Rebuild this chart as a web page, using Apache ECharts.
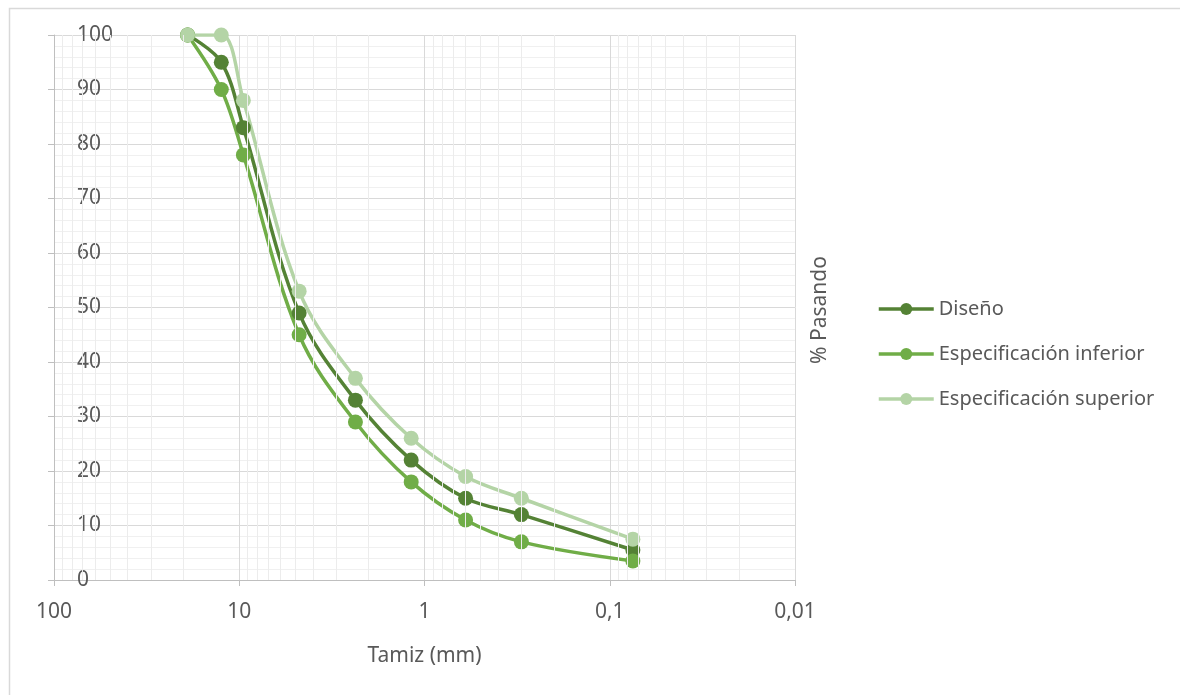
<!DOCTYPE html>
<html>
<head>
<meta charset="utf-8">
<script src="https://cdn.jsdelivr.net/npm/echarts@6/dist/echarts.min.js"></script>
<style>
  html, body { margin: 0; padding: 0; background: #fff; }
  #main { width: 1180px; height: 695px; }
</style>
</head>
<body>
<div id="main"></div>
<script>
// tamices (mm) y % que pasa
const tamices = [19, 12.5, 9.5, 4.75, 2.36, 1.18, 0.6, 0.3, 0.075];
const diseno = [100, 95, 83, 49, 33, 22, 15, 12, 5.5];
const especInferior = [100, 90, 78, 45, 29, 18, 11, 7, 3.5];
const especSuperior = [100, 100, 88, 53, 37, 26, 19, 15, 7.5];
const nombres = ['Diseño', 'Especificación inferior', 'Especificación superior'];
const colores = ['#548235', '#70ad47', '#b4d4a6'];

// lineas menores de la escala log (2..9 de cada decada)
const decadas = [0.01, 0.1, 1, 10];
const menores = [];
decadas.forEach(function (d) {
  for (let k = 2; k <= 9; k++) menores.push(+(d * k).toPrecision(4));
});

const chart = echarts.init(document.getElementById('main'));
const txt = '#595959';
const fuente = 'Noto Sans';
const tam = 21;

function pares(vals) {
  return tamices.map(function (t, i) { return [t, vals[i]]; });
}

function serie(nombre, vals, color) {
  return {
    name: nombre,
    type: 'line',
    smooth: 0.35,
    symbol: 'circle',
    symbolSize: 15,
    clip: true,
    itemStyle: { color: color },
    lineStyle: { color: color, width: 3.5 },
    data: pares(vals),
    z: 3
  };
}

const option = {
  animation: false,
  textStyle: { fontFamily: fuente },
  grid: { left: 54, right: 385, top: 35, bottom: 115 },
  legend: {
    orient: 'vertical',
    left: 877,
    top: 299,
    padding: 0,
    itemWidth: 55,
    itemHeight: 15,
    itemGap: 25,
    lineStyle: { width: 3.5 },
    textStyle: { color: txt, fontSize: 20, fontFamily: fuente },
    data: nombres
  },
  graphic: [
    {
      type: 'rect',
      left: 7, top: 6,
      shape: { width: 1200, height: 720 },
      style: { fill: 'none', stroke: '#d9d9d9', lineWidth: 1.5 },
      silent: true
    },
    {
      type: 'text',
      x: 820, y: 310,
      rotation: Math.PI / 2,
      style: {
        text: '% Pasando',
        fill: txt,
        font: tam + 'px "Noto Sans"',
        align: 'center',
        verticalAlign: 'middle'
      }
    }
  ],
  xAxis: {
    type: 'log',
    logBase: 10,
    min: 0.01,
    max: 100,
    inverse: true,
    name: 'Tamiz (mm)',
    nameLocation: 'middle',
    nameGap: 66,
    nameTextStyle: { color: txt, fontSize: tam, fontFamily: fuente },
    axisLine: { lineStyle: { color: '#bfbfbf' } },
    axisTick: { show: true, length: 6, lineStyle: { color: '#bfbfbf' } },
    axisLabel: {
      color: txt,
      fontSize: tam,
      margin: 22,
      formatter: function (v) { return String(+v.toPrecision(6)).replace('.', ','); }
    },
    splitLine: { show: true, lineStyle: { color: '#d9d9d9' } }
  },
  yAxis: {
    type: 'value',
    min: 0,
    max: 100,
    interval: 10,
    axisLine: { show: true, lineStyle: { color: '#bfbfbf' } },
    axisTick: { show: true, length: 6, lineStyle: { color: '#bfbfbf' } },
    axisLabel: { inside: true, margin: 23, align: 'left', color: txt, fontSize: tam },
    splitLine: { show: true, lineStyle: { color: '#d9d9d9' } },
    minorTick: { show: false, splitNumber: 5 },
    minorSplitLine: { show: true, lineStyle: { color: '#f0f0f0' } }
  },
  series: [
    {
      name: 'grid-menor',
      type: 'line',
      data: [],
      silent: true,
      markLine: {
        silent: true,
        symbol: 'none',
        label: { show: false },
        lineStyle: { color: '#ececec', width: 1, type: 'solid' },
        emphasis: { disabled: true },
        data: menores.map(function (v) { return { xAxis: v }; })
      },
      z: 0
    },
    serie(nombres[0], diseno, colores[0]),
    serie(nombres[1], especInferior, colores[1]),
    serie(nombres[2], especSuperior, colores[2])
  ]
};

chart.setOption(option);
</script>
</body>
</html>
